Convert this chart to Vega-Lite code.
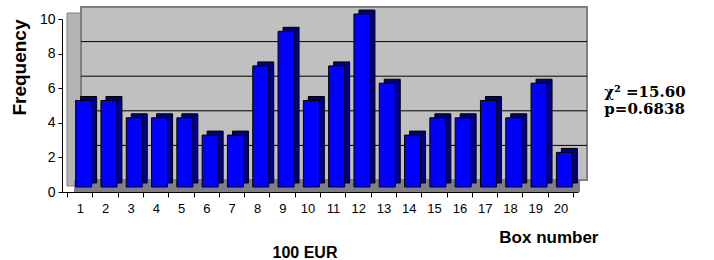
{
  "$schema": "https://vega.github.io/schema/vega-lite/v6.json",
  "width": 516,
  "height": 173,
  "autosize": "none",
  "padding": {"left": 62, "top": 19, "right": 136, "bottom": 68},
  "background": "white",
  "config": {
    "view": {"stroke": null},
    "font": "Liberation Sans",
    "axis": {"labelOverlap": false, "labelFlush": false, "grid": false, "tickColor": "black", "domainColor": "black", "labelColor": "black", "titleColor": "black"},
    "axisX": {"tickSize": 5, "labelFontSize": 13, "labelFont": "Liberation Sans Narrow, Liberation Sans", "labelPadding": 5},
    "axisY": {"tickSize": 4, "labelFontSize": 14, "labelPadding": 3}
  },
  "title": {"text": "100 EUR", "orient": "bottom", "anchor": "middle", "frame": "group", "fontSize": 16, "fontWeight": "bold", "font": "Liberation Sans", "color": "black", "dx": -15, "offset": 0},
  "data": {"values": [
    {"box": 1, "freq": 5}, {"box": 2, "freq": 5}, {"box": 3, "freq": 4}, {"box": 4, "freq": 4},
    {"box": 5, "freq": 4}, {"box": 6, "freq": 3}, {"box": 7, "freq": 3}, {"box": 8, "freq": 7},
    {"box": 9, "freq": 9}, {"box": 10, "freq": 5}, {"box": 11, "freq": 7}, {"box": 12, "freq": 10},
    {"box": 13, "freq": 6}, {"box": 14, "freq": 3}, {"box": 15, "freq": 4}, {"box": 16, "freq": 4},
    {"box": 17, "freq": 5}, {"box": 18, "freq": 4}, {"box": 19, "freq": 6}, {"box": 20, "freq": 2}
  ]},
  "encoding": {
    "x": {"field": "box", "type": "quantitative",
      "scale": {"domain": [0.5, 20.5], "nice": false, "zero": false},
      "axis": {"values": [0.5, 1.5, 2.5, 3.5, 4.5, 5.5, 6.5, 7.5, 8.5, 9.5, 10.5, 11.5, 12.5, 13.5, 14.5, 15.5, 16.5, 17.5, 18.5, 19.5, 20.5],
        "labelExpr": "datum.value < 20 ? format(datum.value + 0.5, 'd') : ''",
        "labelOverlap": false, "labelOffset": 12.9,
        "title": "Box number", "titleFontSize": 17, "titleFontWeight": "bold", "titleFont": "Liberation Sans",
        "titleX": 536, "titleY": 50, "titleAlign": "right", "titleBaseline": "alphabetic"}},
    "y": {"field": "freq", "type": "quantitative",
      "scale": {"domain": [0, 10], "nice": false},
      "axis": {"values": [0, 2, 4, 6, 8, 10], "labelOverlap": false,
        "title": "Frequency", "titleFontSize": 19, "titleFontWeight": "bold",
        "titleX": -43, "titleY": 0, "titleAngle": -90, "titleAlign": "right", "titleBaseline": "middle"}}
  },
  "layer": [
    {
      "data": {"values": [{"lo": 0.5, "hi": 0.5, "b": 0, "t": 10}]},
      "mark": {"type": "rect", "fill": "#B4B4B4", "stroke": "#808080", "strokeWidth": 1, "x2Offset": 14, "yOffset": -6, "y2Offset": -6},
      "encoding": {"x": {"field": "lo", "type": "quantitative"}, "x2": {"field": "hi"}, "y": {"field": "b", "type": "quantitative"}, "y2": {"field": "t"}}
    },
    {
      "data": {"values": [{"lo": 0.5, "hi": 20.5, "b": 0, "t": 10}]},
      "mark": {"type": "rect", "fill": "#C0C0C0", "stroke": "#808080", "strokeWidth": 2, "xOffset": 14, "x2Offset": 14, "yOffset": -12, "y2Offset": -12},
      "encoding": {"x": {"field": "lo", "type": "quantitative"}, "x2": {"field": "hi"}, "y": {"field": "b", "type": "quantitative"}, "y2": {"field": "t"}}
    },
    {
      "data": {"values": [{"lo": 0.5, "hi": 20.5, "b": 0, "t": 0}]},
      "mark": {"type": "rect", "fill": "#808080", "xOffset": 7, "x2Offset": 7, "yOffset": -12, "y2Offset": 0},
      "encoding": {"x": {"field": "lo", "type": "quantitative"}, "x2": {"field": "hi"}, "y": {"field": "b", "type": "quantitative"}, "y2": {"field": "t"}}
    },
    {
      "data": {"values": [{"lo": 0.5, "hi": 20.5, "g": 2}, {"lo": 0.5, "hi": 20.5, "g": 4}, {"lo": 0.5, "hi": 20.5, "g": 6}, {"lo": 0.5, "hi": 20.5, "g": 8}]},
      "mark": {"type": "rule", "color": "black", "strokeWidth": 1, "xOffset": 14, "x2Offset": 14, "yOffset": -12},
      "encoding": {"x": {"field": "lo", "type": "quantitative"}, "x2": {"field": "hi"}, "y": {"field": "g", "type": "quantitative"}}
    },
    {
      "mark": {"type": "bar", "fill": "#000080", "stroke": "black", "strokeWidth": 1, "size": 16, "xOffset": 9, "yOffset": -9, "y2Offset": -9},
      "encoding": {"y2": {"datum": 0}}
    },
    {
      "mark": {"type": "bar", "fill": "#0000FF", "stroke": "black", "strokeWidth": 1, "size": 16, "xOffset": 4, "yOffset": -5, "y2Offset": -5},
      "encoding": {"y2": {"datum": 0}}
    },
    {
      "data": {"values": [{"label": "χ² =15.60", "px": 21.74, "py": 5.5}, {"label": "p=0.6838", "px": 21.74, "py": 4.5}]},
      "mark": {"type": "text", "align": "left", "baseline": "alphabetic", "font": "DejaVu Serif", "fontWeight": "bold", "fontSize": 15, "color": "black"},
      "encoding": {"x": {"field": "px", "type": "quantitative"}, "y": {"field": "py", "type": "quantitative"}, "text": {"field": "label"}}
    }
  ]
}
